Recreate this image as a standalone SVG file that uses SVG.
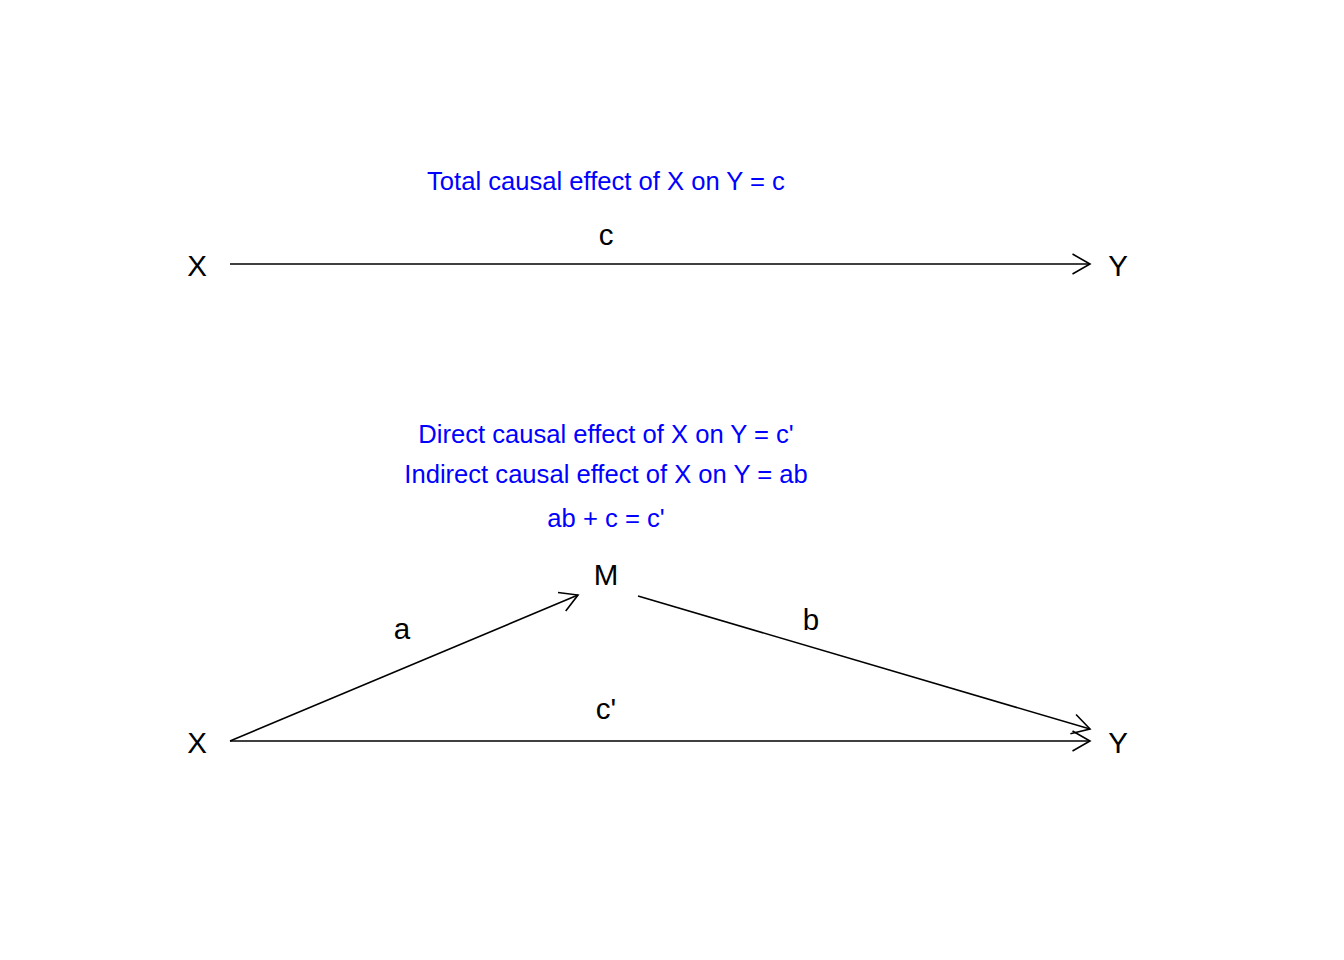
<svg xmlns="http://www.w3.org/2000/svg" width="1344" height="960" viewBox="0 0 1344 960">
<style>
.node{font-family:"Liberation Sans",Arial,sans-serif;font-size:29.5px;fill:#000;text-anchor:middle}
.lab{font-family:"Liberation Sans",Arial,sans-serif;font-size:29.5px;fill:#000;text-anchor:middle}
.note{font-family:"Liberation Sans",Arial,sans-serif;font-size:25.6px;fill:#0000FF;text-anchor:middle}
.edge{stroke:#000;stroke-width:1.6;fill:none}
</style>
<defs>
<marker id="ah" markerUnits="userSpaceOnUse" markerWidth="40" markerHeight="40" refX="0" refY="0" viewBox="-20 -20 40 40" orient="auto" overflow="visible">
<path d="M-17.5,-10 L0,0 L-17.5,10" fill="none" stroke="#000" stroke-width="1.6"/>
</marker>
</defs>
<rect width="1344" height="960" fill="#fff"/>
<g id="notes">
<text class="note" x="606" y="190">Total causal effect of X on Y = c</text>
<text class="note" x="606" y="443">Direct causal effect of X on Y = c'</text>
<text class="note" x="606" y="483">Indirect causal effect of X on Y = ab</text>
<text class="note" x="606" y="527">ab + c = c'</text>
</g>
<g id="connectors">
<line class="edge" x1="230" y1="264" x2="1090" y2="264" marker-end="url(#ah)"/>
<line class="edge" x1="230" y1="741" x2="578" y2="595" marker-end="url(#ah)"/>
<line class="edge" x1="638" y1="596" x2="1090" y2="729" marker-end="url(#ah)"/>
<line class="edge" x1="230" y1="741" x2="1090" y2="741" marker-end="url(#ah)"/>
</g>
<g id="edge-labels">
<text class="lab" x="606" y="245">c</text>
<text class="lab" x="402" y="639">a</text>
<text class="lab" x="811" y="630">b</text>
<text class="lab" x="606" y="719">c'</text>
</g>
<g id="node-X1"><text class="node" x="197" y="276">X</text></g>
<g id="node-Y1"><text class="node" x="1118" y="276">Y</text></g>
<g id="node-M"><text class="node" x="606" y="585">M</text></g>
<g id="node-X2"><text class="node" x="197" y="753">X</text></g>
<g id="node-Y2"><text class="node" x="1118" y="753">Y</text></g>
</svg>
